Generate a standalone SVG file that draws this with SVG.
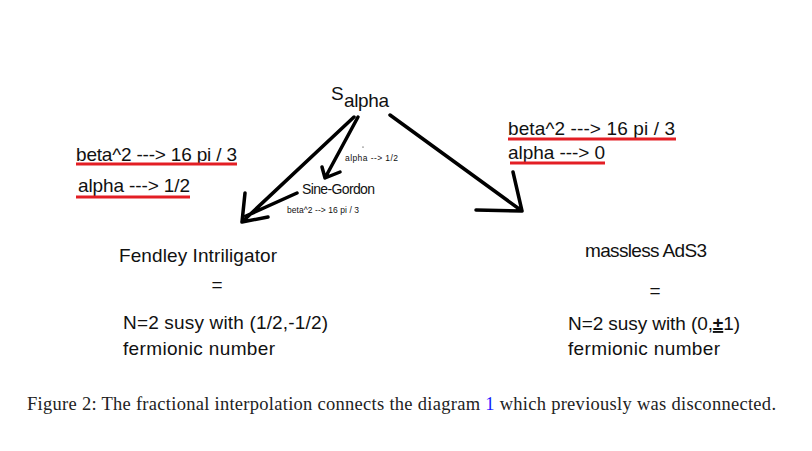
<svg xmlns="http://www.w3.org/2000/svg" width="812" height="451" viewBox="0 0 812 451">
<style>
.t{font-family:"Liberation Sans",Arial,sans-serif;fill:#111}
.m{font-size:19px}
.s{font-size:8.5px}
.u{stroke:#e31e24;stroke-width:3;fill:none}
.a{stroke:#000;stroke-width:3.5;fill:none;stroke-linecap:round;stroke-linejoin:round}
.cap{font-family:"Liberation Serif","Times New Roman",serif;font-size:18.5px;fill:#222}
</style>
<rect width="812" height="451" fill="#fff"/>
<g id="connectors">
<path class="a" d="M354,117 L242,222 M245,193 L242,222 L268,217 M297,193 L246,216"/>
<path class="a" d="M358,117 L325,178 M322,167 L325,178 L340,172"/>
<path class="a" d="M390,115 L522,211 M513,172 L522,211 L476,210"/>
<circle cx="363" cy="147" r="0.6" fill="#000"/>
</g>
<g id="s-alpha">
<text class="t" x="331" y="100" font-size="19">S</text>
<text class="t" x="344" y="107" font-size="19" textLength="45">alpha</text>
</g>
<g id="label-alpha-half-small"><text class="t s" x="345" y="161" textLength="53">alpha --&gt; 1/2</text></g>
<g id="sine-gordon">
<text class="t" x="302" y="194" font-size="14" textLength="73">Sine-Gordon</text>
</g>
<g id="label-beta-small"><text class="t s" x="287" y="213" textLength="72">beta^2 --&gt; 16 pi / 3</text></g>
<g id="left-conditions">
<text class="t m" x="76" y="161" textLength="161">beta^2 ---&gt; 16 pi / 3</text>
<line class="u" x1="76" y1="164" x2="237" y2="164"/>
<text class="t m" x="78" y="192" textLength="112">alpha ---&gt; 1/2</text>
<line class="u" x1="76" y1="197" x2="190" y2="197"/>
</g>
<g id="right-conditions">
<text class="t m" x="508" y="135" textLength="167">beta^2 ---&gt; 16 pi / 3</text>
<line class="u" x1="508" y1="139" x2="676" y2="139"/>
<text class="t m" x="508" y="159" textLength="97">alpha ---&gt; 0</text>
<line class="u" x1="510" y1="163" x2="605" y2="163"/>
</g>
<g id="fendley">
<text class="t m" x="119" y="262" textLength="158">Fendley Intriligator</text>
<text class="t m" x="217" y="291" text-anchor="middle">=</text>
<text class="t m" x="123" y="329" textLength="205">N=2 susy with (1/2,-1/2)</text>
<text class="t m" x="123" y="355" textLength="152">fermionic number</text>
</g>
<g id="massless">
<text class="t m" x="585" y="257" textLength="122">massless AdS3</text>
<text class="t m" x="655" y="297" text-anchor="middle">=</text>
<text class="t m" x="568" y="330" textLength="172">N=2 susy with (0,<tspan font-weight="bold" text-decoration="underline">±</tspan>1)</text>
<text class="t m" x="568" y="355" textLength="152">fermionic number</text>
</g>
<g id="caption">
<text class="cap" x="27" y="410" textLength="749">Figure 2: The fractional interpolation connects the diagram <tspan fill="#1a1aff">1</tspan> which previously was disconnected.</text>
</g>
</svg>
